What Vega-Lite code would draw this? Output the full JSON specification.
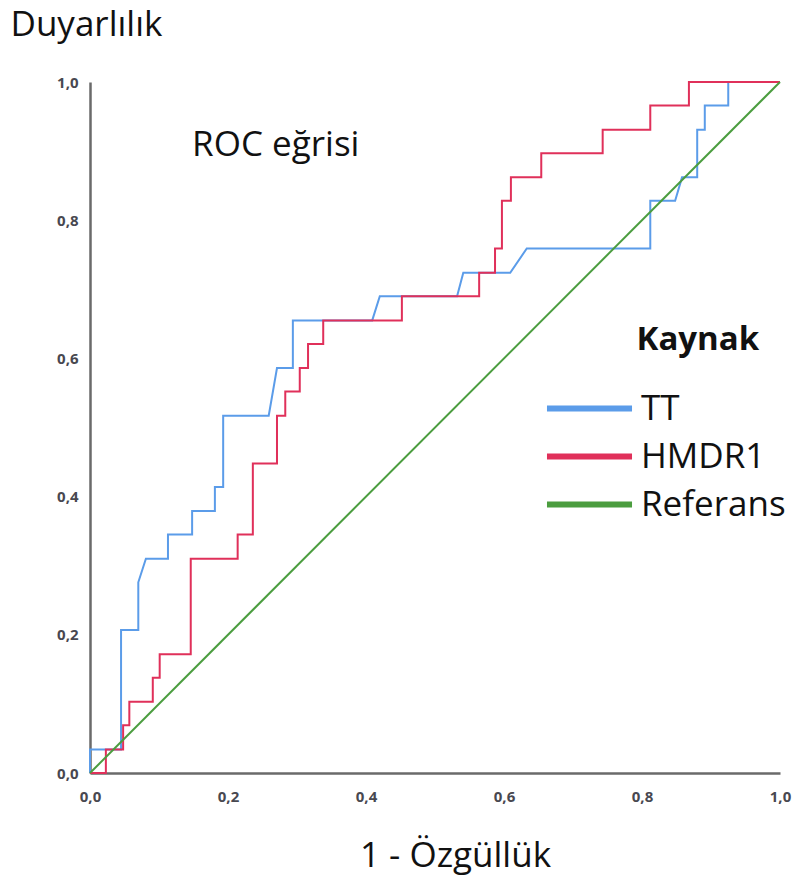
{
  "$schema": "https://vega.github.io/schema/vega-lite/v6.json",
  "width": 690,
  "height": 691,
  "autosize": {"type": "none"},
  "padding": {"left": 90, "top": 82, "right": 18, "bottom": 106},
  "background": "white",
  "datasets": {
    "roc": [
      {"kaynak": "TT", "i": 0, "x": 0, "y": 0},
      {"kaynak": "TT", "i": 1, "x": 0, "y": 0.034},
      {"kaynak": "TT", "i": 2, "x": 0.045, "y": 0.034},
      {"kaynak": "TT", "i": 3, "x": 0.045, "y": 0.207},
      {"kaynak": "TT", "i": 4, "x": 0.07, "y": 0.207},
      {"kaynak": "TT", "i": 5, "x": 0.07, "y": 0.276},
      {"kaynak": "TT", "i": 6, "x": 0.081, "y": 0.31},
      {"kaynak": "TT", "i": 7, "x": 0.113, "y": 0.31},
      {"kaynak": "TT", "i": 8, "x": 0.113, "y": 0.345},
      {"kaynak": "TT", "i": 9, "x": 0.148, "y": 0.345},
      {"kaynak": "TT", "i": 10, "x": 0.148, "y": 0.379},
      {"kaynak": "TT", "i": 11, "x": 0.181, "y": 0.379},
      {"kaynak": "TT", "i": 12, "x": 0.181, "y": 0.414},
      {"kaynak": "TT", "i": 13, "x": 0.193, "y": 0.414},
      {"kaynak": "TT", "i": 14, "x": 0.193, "y": 0.517},
      {"kaynak": "TT", "i": 15, "x": 0.259, "y": 0.517},
      {"kaynak": "TT", "i": 16, "x": 0.271, "y": 0.586},
      {"kaynak": "TT", "i": 17, "x": 0.294, "y": 0.586},
      {"kaynak": "TT", "i": 18, "x": 0.294, "y": 0.655},
      {"kaynak": "TT", "i": 19, "x": 0.409, "y": 0.655},
      {"kaynak": "TT", "i": 20, "x": 0.42, "y": 0.69},
      {"kaynak": "TT", "i": 21, "x": 0.532, "y": 0.69},
      {"kaynak": "TT", "i": 22, "x": 0.541, "y": 0.724},
      {"kaynak": "TT", "i": 23, "x": 0.609, "y": 0.724},
      {"kaynak": "TT", "i": 24, "x": 0.633, "y": 0.759},
      {"kaynak": "TT", "i": 25, "x": 0.812, "y": 0.759},
      {"kaynak": "TT", "i": 26, "x": 0.812, "y": 0.828},
      {"kaynak": "TT", "i": 27, "x": 0.848, "y": 0.828},
      {"kaynak": "TT", "i": 28, "x": 0.858, "y": 0.862},
      {"kaynak": "TT", "i": 29, "x": 0.88, "y": 0.862},
      {"kaynak": "TT", "i": 30, "x": 0.88, "y": 0.931},
      {"kaynak": "TT", "i": 31, "x": 0.891, "y": 0.931},
      {"kaynak": "TT", "i": 32, "x": 0.891, "y": 0.966},
      {"kaynak": "TT", "i": 33, "x": 0.925, "y": 0.966},
      {"kaynak": "TT", "i": 34, "x": 0.925, "y": 1},
      {"kaynak": "TT", "i": 35, "x": 1, "y": 1},
      {"kaynak": "HMDR1", "i": 0, "x": 0, "y": 0},
      {"kaynak": "HMDR1", "i": 1, "x": 0.023, "y": 0},
      {"kaynak": "HMDR1", "i": 2, "x": 0.023, "y": 0.034},
      {"kaynak": "HMDR1", "i": 3, "x": 0.048, "y": 0.034},
      {"kaynak": "HMDR1", "i": 4, "x": 0.048, "y": 0.069},
      {"kaynak": "HMDR1", "i": 5, "x": 0.057, "y": 0.069},
      {"kaynak": "HMDR1", "i": 6, "x": 0.057, "y": 0.103},
      {"kaynak": "HMDR1", "i": 7, "x": 0.091, "y": 0.103},
      {"kaynak": "HMDR1", "i": 8, "x": 0.091, "y": 0.138},
      {"kaynak": "HMDR1", "i": 9, "x": 0.101, "y": 0.138},
      {"kaynak": "HMDR1", "i": 10, "x": 0.101, "y": 0.172},
      {"kaynak": "HMDR1", "i": 11, "x": 0.146, "y": 0.172},
      {"kaynak": "HMDR1", "i": 12, "x": 0.146, "y": 0.31},
      {"kaynak": "HMDR1", "i": 13, "x": 0.214, "y": 0.31},
      {"kaynak": "HMDR1", "i": 14, "x": 0.214, "y": 0.345},
      {"kaynak": "HMDR1", "i": 15, "x": 0.236, "y": 0.345},
      {"kaynak": "HMDR1", "i": 16, "x": 0.236, "y": 0.448},
      {"kaynak": "HMDR1", "i": 17, "x": 0.271, "y": 0.448},
      {"kaynak": "HMDR1", "i": 18, "x": 0.271, "y": 0.517},
      {"kaynak": "HMDR1", "i": 19, "x": 0.283, "y": 0.517},
      {"kaynak": "HMDR1", "i": 20, "x": 0.283, "y": 0.552},
      {"kaynak": "HMDR1", "i": 21, "x": 0.304, "y": 0.552},
      {"kaynak": "HMDR1", "i": 22, "x": 0.304, "y": 0.586},
      {"kaynak": "HMDR1", "i": 23, "x": 0.316, "y": 0.586},
      {"kaynak": "HMDR1", "i": 24, "x": 0.316, "y": 0.621},
      {"kaynak": "HMDR1", "i": 25, "x": 0.338, "y": 0.621},
      {"kaynak": "HMDR1", "i": 26, "x": 0.338, "y": 0.655},
      {"kaynak": "HMDR1", "i": 27, "x": 0.452, "y": 0.655},
      {"kaynak": "HMDR1", "i": 28, "x": 0.452, "y": 0.69},
      {"kaynak": "HMDR1", "i": 29, "x": 0.564, "y": 0.69},
      {"kaynak": "HMDR1", "i": 30, "x": 0.564, "y": 0.724},
      {"kaynak": "HMDR1", "i": 31, "x": 0.587, "y": 0.724},
      {"kaynak": "HMDR1", "i": 32, "x": 0.587, "y": 0.759},
      {"kaynak": "HMDR1", "i": 33, "x": 0.597, "y": 0.759},
      {"kaynak": "HMDR1", "i": 34, "x": 0.597, "y": 0.828},
      {"kaynak": "HMDR1", "i": 35, "x": 0.61, "y": 0.828},
      {"kaynak": "HMDR1", "i": 36, "x": 0.61, "y": 0.862},
      {"kaynak": "HMDR1", "i": 37, "x": 0.654, "y": 0.862},
      {"kaynak": "HMDR1", "i": 38, "x": 0.654, "y": 0.897},
      {"kaynak": "HMDR1", "i": 39, "x": 0.743, "y": 0.897},
      {"kaynak": "HMDR1", "i": 40, "x": 0.743, "y": 0.931},
      {"kaynak": "HMDR1", "i": 41, "x": 0.812, "y": 0.931},
      {"kaynak": "HMDR1", "i": 42, "x": 0.812, "y": 0.966},
      {"kaynak": "HMDR1", "i": 43, "x": 0.868, "y": 0.966},
      {"kaynak": "HMDR1", "i": 44, "x": 0.868, "y": 1},
      {"kaynak": "HMDR1", "i": 45, "x": 1, "y": 1},
      {"kaynak": "Referans", "i": 0, "x": 0, "y": 0},
      {"kaynak": "Referans", "i": 1, "x": 1, "y": 1}
    ],
    "rocTitle": [{"label": "ROC eğrisi"}],
    "legendTitle": [{"label": "Kaynak"}]
  },
  "layer": [
    {
      "data": {"name": "roc"},
      "mark": {"type": "line", "strokeWidth": 2, "interpolate": "linear"},
      "encoding": {
        "x": {
          "field": "x",
          "type": "quantitative",
          "scale": {"domain": [0, 1], "nice": false, "zero": false},
          "axis": {
            "title": "1 - Özgüllük",
            "values": [0, 0.2, 0.4, 0.6, 0.8, 1],
            "labelExpr": "replace(format(datum.value, '.1f'), '.', ',')",
            "ticks": false,
            "grid": false,
            "domainColor": "#6a6a6a",
            "domainWidth": 2.5,
            "labelFont": "Open Sans",
            "labelFontSize": 15,
            "labelFontWeight": "bold",
            "labelColor": "#484850",
            "labelPadding": 16,
            "labelFlush": false,
            "titleFont": "Open Sans",
            "titleFontSize": 35,
            "titleFontWeight": "normal",
            "titleColor": "#111111",
            "titleAnchor": "start",
            "titleAlign": "center",
            "titleBaseline": "middle",
            "titleX": 365,
            "titleY": 82
          }
        },
        "y": {
          "field": "y",
          "type": "quantitative",
          "scale": {"domain": [0, 1], "nice": false, "zero": false},
          "axis": {
            "title": "Duyarlılık",
            "values": [0, 0.2, 0.4, 0.6, 0.8, 1],
            "labelExpr": "replace(format(datum.value, '.1f'), '.', ',')",
            "ticks": false,
            "grid": false,
            "domainColor": "#6a6a6a",
            "domainWidth": 2.5,
            "labelFont": "Open Sans",
            "labelFontSize": 15,
            "labelFontWeight": "bold",
            "labelColor": "#484850",
            "labelPadding": 12,
            "labelFlush": false,
            "titleFont": "Open Sans",
            "titleFontSize": 35,
            "titleFontWeight": "normal",
            "titleColor": "#111111",
            "titleAngle": 0,
            "titleAlign": "left",
            "titleBaseline": "middle",
            "titleAnchor": "start",
            "titleX": -80,
            "titleY": -58
          }
        },
        "color": {
          "field": "kaynak",
          "type": "nominal",
          "scale": {
            "domain": ["TT", "HMDR1", "Referans"],
            "range": ["#5b9ce9", "#e0305a", "#4b9d3f"]
          },
          "legend": {
            "title": null,
            "orient": "none",
            "legendX": 482,
            "legendY": 309,
            "symbolType": "M-4,0H4",
            "symbolSize": 452,
            "symbolStrokeWidth": 6,
            "rowPadding": 12,
            "labelFont": "Open Sans",
            "labelFontSize": 35,
            "labelColor": "#111111",
            "labelOffset": 34,
            "labelLimit": 300
          }
        },
        "order": {"field": "i", "type": "quantitative"}
      }
    },
    {
      "data": {"name": "rocTitle"},
      "mark": {
        "type": "text",
        "align": "left",
        "baseline": "middle",
        "font": "Open Sans",
        "fontSize": 35,
        "color": "#111111"
      },
      "encoding": {
        "x": {"datum": 0.148},
        "y": {"datum": 0.909},
        "text": {"field": "label"}
      }
    },
    {
      "data": {"name": "legendTitle"},
      "mark": {
        "type": "text",
        "align": "left",
        "baseline": "middle",
        "font": "Open Sans",
        "fontSize": 33,
        "fontWeight": "bold",
        "color": "#111111"
      },
      "encoding": {
        "x": {"datum": 0.792},
        "y": {"datum": 0.627},
        "text": {"field": "label"}
      }
    }
  ],
  "config": {
    "view": {"stroke": null}
  }
}
